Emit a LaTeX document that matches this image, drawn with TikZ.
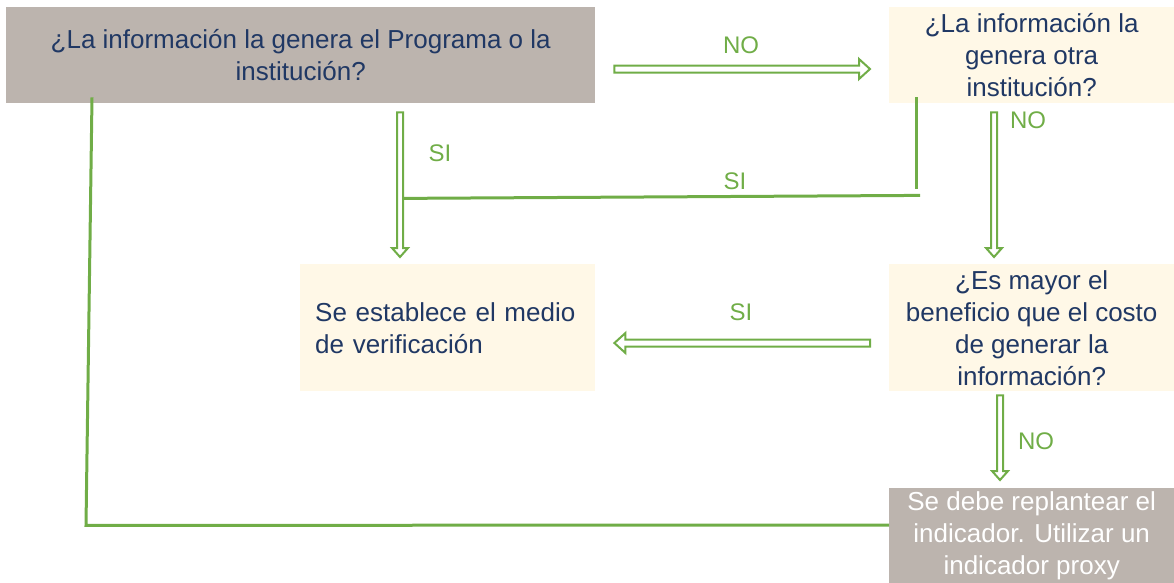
\documentclass[tikz,border=0pt]{standalone}
\usepackage{fontspec}
\setmainfont{Liberation Sans}
\usetikzlibrary{arrows.meta,calc}
\definecolor{boxgray}{HTML}{BCB4AE}
\definecolor{cream}{HTML}{FFF8E7}
\definecolor{navy}{HTML}{203864}
\definecolor{grn}{HTML}{70AD47}
\tikzset{
  box/.style={inner sep=0pt, anchor=north west, text=navy, align=center,
    font=\fontsize{26}{32}\selectfont},
  graybox/.style={box, fill=boxgray},
  creambox/.style={box, fill=cream},
  harrow/.style n args={3}{draw=grn, line width=2pt, fill=white, line join=miter,
    to path={
      ($(\tikztostart)!#1!90:(\tikztotarget)$)
      -- ($($(\tikztotarget)!#3!(\tikztostart)$)!#1!-90:(\tikztostart)$)
      -- ($($(\tikztotarget)!#3!(\tikztostart)$)!#2!-90:(\tikztostart)$)
      -- (\tikztotarget)
      -- ($($(\tikztotarget)!#3!(\tikztostart)$)!#2!90:(\tikztostart)$)
      -- ($($(\tikztotarget)!#3!(\tikztostart)$)!#1!90:(\tikztostart)$)
      -- ($(\tikztostart)!#1!-90:(\tikztotarget)$)
      -- cycle}},
  harr/.style={harrow={3.5pt}{10pt}{11pt}},
  varr/.style={harrow={3pt}{8pt}{9pt}},
  ln/.style={draw=grn, line width=3pt},
  lbl/.style={text=grn, font=\fontsize{24}{24}\selectfont, inner sep=0pt}
}
\begin{document}
\begin{tikzpicture}[x=1pt,y=-1pt]
\useasboundingbox (0,0) rectangle (1174,582);
% boxes
\node[graybox, minimum width=589pt, minimum height=96pt] (a) at (6,7)
  {¿La información la genera el Programa o la\\institución?};
\node[creambox, minimum width=285pt, minimum height=96pt] (b) at (889,7)
  {¿La información la\\genera otra\\institución?};
\node[creambox, minimum width=295pt, minimum height=127pt, align=left,
  text width=265pt, inner xsep=15pt] (c) at (300,264)
  {Se establece el medio\\de verificación};
\node[creambox, minimum width=285pt, minimum height=127pt] (d) at (889,264)
  {¿Es mayor el\\beneficio que el costo\\de generar la\\información?};
\node[graybox, text=white, minimum width=285pt, minimum height=96pt] (e) at (889,488)
  {Se debe replantear el\\indicador. Utilizar un\\indicador proxy};
% connector end points
\coordinate (ab1) at ($(a.north east)+(19,62)$);
\coordinate (ab2) at ($(b.north west)+(-19,62)$);
\coordinate (ac1) at ($(a.south west)+(394,9)$);
\coordinate (ac2) at ($(c.north west)+(100,-7)$);
\coordinate (bd1) at ($(b.south west)+(105,9)$);
\coordinate (bd2) at ($(d.north west)+(105,-7)$);
\coordinate (dc1) at ($(d.north west)+(-19,79)$);
\coordinate (dc2) at ($(c.north east)+(19,79)$);
\coordinate (de1) at ($(d.south west)+(111,4)$);
\coordinate (de2) at ($(e.north west)+(111,-8)$);
% lines
\draw[ln] ($(b.south west)+(27,-6)$) -- ($(b.south west)+(27,86)$);
\draw[ln] ($(b.south west)+(31,92)$) -- ($(a.south west)+(394,95)$);
\draw[ln] ($(e.north west)+(0,37)$) -- ($(a.south west)+(80,422)$) -- ($(a.south west)+(86,-6)$);
% arrows
\draw[harr] (ab1) to (ab2);
\draw[varr] (ac1) to (ac2);
\draw[varr] (bd1) to (bd2);
\draw[harr] (dc1) to (dc2);
\draw[varr] (de1) to (de2);
% labels
\node[lbl] (l1) at (741,45) {NO};
\node[lbl] (l2) at (440,153) {SI};
\node[lbl] (l3) at (735,181) {SI};
\node[lbl] (l4) at (1028,120) {NO};
\node[lbl] (l5) at (741,312) {SI};
\node[lbl] (l6) at (1036,441) {NO};
\end{tikzpicture}
\end{document}
